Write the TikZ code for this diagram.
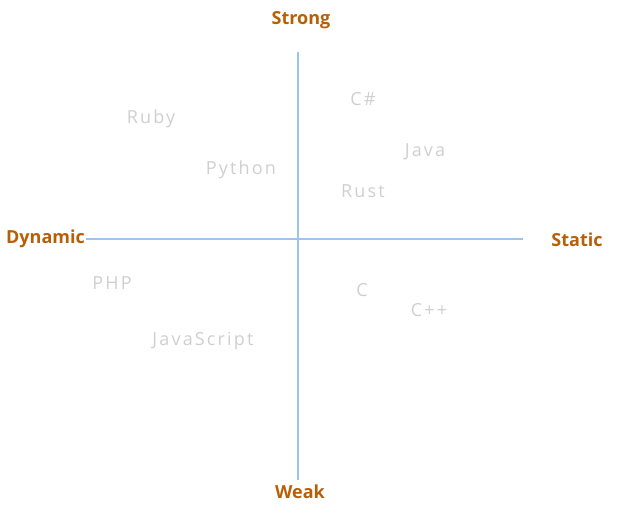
\documentclass[tikz,border=0pt]{standalone}
\usepackage{fontspec}
\setmainfont{Open Sans}
\newfontfamily\langfont[LetterSpace=12]{Open Sans}
\usetikzlibrary{positioning}
\definecolor{axAxis}{HTML}{9CC4F0}
\definecolor{axLabel}{HTML}{B85F06}
\definecolor{axLang}{HTML}{CFCFCF}

\begin{document}
\begin{tikzpicture}[x=1pt, y=-1pt,
		axislabel/.style={text=axLabel, font=\fontsize{18}{21}\selectfont\bfseries, inner sep=1pt},
		lang/.style={text=axLang, font=\langfont\fontsize{18}{21}\selectfont, inner sep=1pt},
		axisline/.style={draw=axAxis, line width=2.5pt}]
	\useasboundingbox (0,0) rectangle (618,516);
	% axis labels
	\node[axislabel] (strong) at (301,20) {Strong};
	\node[axislabel] (weak) at (300,492) {Weak};
	\node[axislabel, anchor=east] (dynamic) at (86,239) {Dynamic};
	\node[axislabel] (static) at (577,240) {Static};
	% axes
	\coordinate (top) at (298,52);
	\coordinate (bottom) at (298,480);
	\coordinate (right) at (523,239);
	\draw[axisline] (top) -- (bottom);
	\draw[axisline] (dynamic.east) -- (right);
	% languages
	\node[lang] (ruby) at (151,119) {Ruby};
	\node[lang] (python) at (241,170) {Python};
	\node[lang] (csharp) at (363,99) {C\#};
	\node[lang] (java) at (425,152) {Java};
	\node[lang] (rust) at (363,191) {Rust};
	\node[lang] (php) at (112,283) {PHP};
	\node[lang] (js) at (203,341) {JavaScript};
	\node[lang] (c) at (362,290) {C};
	\node[lang] (cpp) at (429,310) {C++};
\end{tikzpicture}
\end{document}
